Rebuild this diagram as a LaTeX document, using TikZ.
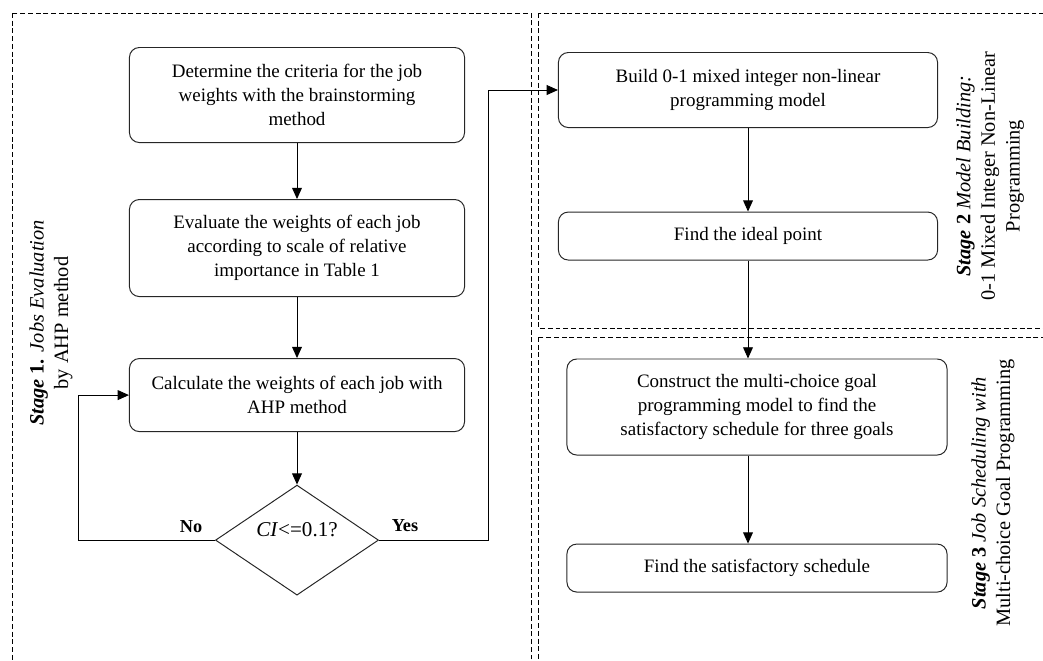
\documentclass[tikz,border=0pt]{standalone}
\usepackage{fontspec}
\setmainfont{Liberation Serif}
\usetikzlibrary{arrows.meta,shapes.geometric,positioning,calc}

\begin{document}
\begin{tikzpicture}[x=0.025cm,y=-0.025cm,node distance=3.7cm,on grid,
    font=\fontsize{13.5}{17}\selectfont,
    proc/.style={draw=black!85,line width=0.7pt,rounded corners=7pt,align=center,inner sep=2pt},
    dec/.style={draw=black!85,line width=0.7pt,diamond,minimum width=4.075cm,minimum height=2.75cm,inner sep=0pt},
    arr/.style={-{Triangle[width=7pt,length=8pt]},line width=0.7pt},
    zone/.style={dash pattern=on 3.5pt off 2pt,line width=0.5pt},
    stagelbl/.style={rotate=90,align=center,font=\fontsize{14.5}{17.5}\selectfont}]
    \clip (0,0) rectangle (1043,660);
    % stage frames
    \draw[zone] (12,13) rectangle (531,680);
    \draw[zone] (538,13) rectangle (1060,328);
    \draw[zone] (538,337) rectangle (1060,680);
    % stage 1
    \node[proc, minimum width=8.375cm, minimum height=2.375cm] (crit) at (297,95)
        {Determine the criteria for the job\\ weights with the brainstorming\\ method};
    \node[proc, minimum width=8.375cm, minimum height=2.425cm] (eval) [below=3.825cm of crit]
        {Evaluate the weights of each job\\ according to scale of relative\\ importance in Table 1};
    \node[proc, minimum width=8.375cm, minimum height=1.825cm] (calc) [below=3.675cm of eval]
        {Calculate the weights of each job with\\ AHP method};
    \node[dec] (ci) [below=3.625cm of calc] {};
    \node[font=\fontsize{15}{17}\selectfont] at ($(ci)+(0,-10)$) {\textit{CI}<=0.1?};
    \node[font=\fontsize{13}{16}\bfseries] (nolbl) at (191,527) {No};
    \node[font=\fontsize{13}{16}\bfseries] (yeslbl) at (405,526) {Yes};
    % stage 2
    \node[proc, minimum width=9.475cm, minimum height=1.875cm] (build) at (748,90)
        {Build 0-1 mixed integer non-linear\\ programming model};
    \node[proc, minimum width=9.475cm, minimum height=1.2cm] (ideal) [below=3.65cm of build]
        {Find the ideal point};
    % stage 3
    \node[proc, minimum width=9.5cm, minimum height=2.4cm] (goal) at (757,407)
        {Construct the multi-choice goal\\ programming model to find the\\ satisfactory schedule for three goals};
    \node[proc, minimum width=9.5cm, minimum height=1.2cm] (sched) [below=4.025cm of goal]
        {Find the satisfactory schedule};
    % stage labels
    \node[stagelbl] (s1) at (51,323)
        {\textbf{\textit{Stage} 1.} \textit{Jobs Evaluation}\\ by AHP method};
    \node[stagelbl] (s2) at (990,176)
        {\textbf{\textit{Stage} 2} \textit{Model Building:}\\ 0-1 Mixed Integer Non-Linear\\ Programming};
    \node[stagelbl] (s3) at (993,493)
        {\textbf{\textit{Stage} 3} \textit{Job Scheduling with}\\ Multi-choice Goal Programming};
    % connectors
    \coordinate (noturn) at (78,0);
    \coordinate (yesturn) at (488,0);
    \coordinate (spine) at (748,0);
    \draw[arr] (crit) -- (eval);
    \draw[arr] (eval) -- (calc);
    \draw[arr] (calc) -- (ci);
    \draw[arr] (ci.west) -- (ci.west -| noturn) |- (calc.west);
    \draw[arr] (ci.east) -- (ci.east -| yesturn) |- (build.west);
    \draw[arr] (build.south -| spine) -- (ideal.north -| spine);
    \draw[arr] (ideal.south -| spine) -- (goal.north -| spine);
    \draw[arr] (goal.south -| spine) -- (sched.north -| spine);
\end{tikzpicture}
\end{document}
